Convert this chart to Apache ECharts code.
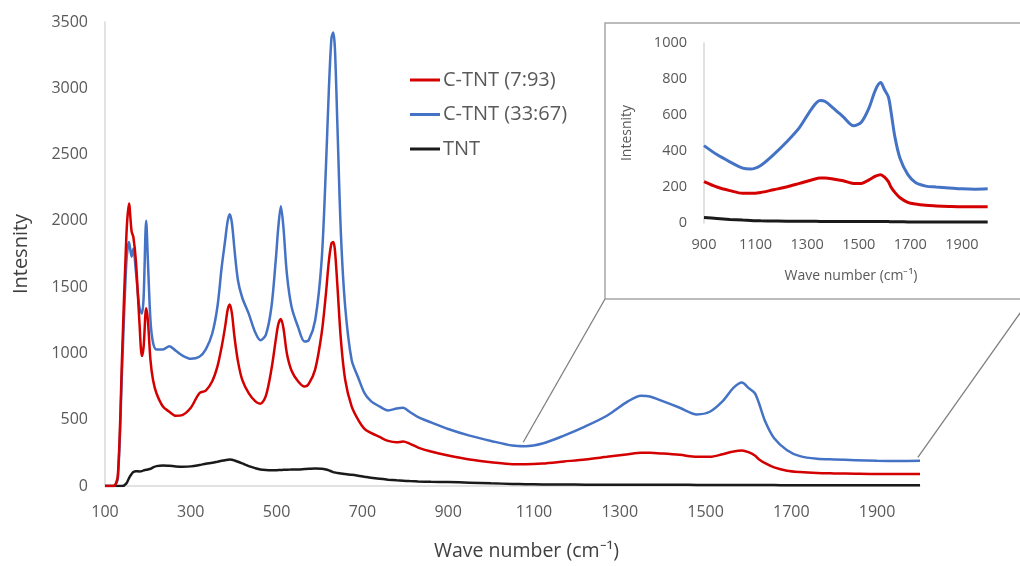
<!DOCTYPE html>
<html>
<head>
<meta charset="utf-8">
<script src="https://cdn.jsdelivr.net/npm/echarts@6/dist/echarts.min.js"></script>
<style>
  html, body { margin: 0; padding: 0; background: #fff; }
  #viz-raman { width: 1020px; height: 566px; }
</style>
</head>
<body>
<div id="viz-raman"></div>
<script>
// raman spectra
const waveNumber = [100, 120, 130, 140, 150, 156, 162, 166, 172, 180, 186, 190, 196, 200, 206, 212, 220, 235, 250, 265,
  280, 300, 320, 335, 350, 362, 372, 380, 386, 391, 396, 402, 410, 420, 435, 450, 462, 475, 488, 498,
  504, 510, 516, 524, 535, 550, 565, 575, 590, 605, 615, 622, 628, 632, 636, 642, 650, 660, 675, 690,
  705, 720, 740, 760, 780, 795, 810, 830, 860, 900, 950, 1000, 1050, 1080, 1120, 1170, 1220, 1270, 1320, 1350,
  1370, 1400, 1440, 1480, 1510, 1540, 1565, 1585, 1600, 1615, 1625, 1640, 1660, 1690, 1720, 1760, 1800, 1850, 1900, 1950,
  2000];

const ctnt793 = [0, 0, 80, 1000, 1900, 2130, 1920, 1880, 1700, 1250, 980, 1050, 1340, 1250, 950, 800, 700, 600, 560, 530,
  535, 590, 700, 720, 790, 900, 1050, 1200, 1330, 1370, 1300, 1120, 940, 800, 700, 640, 620, 680, 880, 1100,
  1220, 1260, 1190, 1000, 870, 790, 750, 770, 880, 1150, 1450, 1700, 1830, 1840, 1780, 1500, 1100, 800, 600, 500,
  430, 400, 370, 340, 330, 335, 320, 290, 260, 230, 200, 180, 165, 165, 170, 185, 200, 220, 240, 250,
  250, 245, 235, 220, 220, 240, 260, 268, 255, 230, 200, 170, 140, 115, 105, 98, 95, 92, 90, 90,
  90];

const ctnt3367 = [0, 0, 60, 900, 1700, 1840, 1730, 1790, 1620, 1350, 1300, 1420, 2000, 1700, 1250, 1080, 1030, 1030, 1055, 1020,
  985, 960, 975, 1030, 1150, 1350, 1650, 1850, 2000, 2050, 1980, 1780, 1550, 1420, 1300, 1160, 1100, 1140, 1350, 1700,
  1950, 2110, 1950, 1600, 1350, 1200, 1090, 1100, 1250, 1700, 2400, 3000, 3380, 3420, 3300, 2700, 1900, 1350, 950, 820,
  700, 640, 600, 570, 585, 590, 560, 520, 480, 430, 380, 340, 305, 300, 320, 380, 450, 530, 640, 680,
  675, 640, 590, 540, 560, 640, 740, 780, 740, 700, 620, 480, 360, 270, 225, 205, 200, 195, 190, 188,
  190];

const tnt = [0, 0, 0, 0, 20, 60, 90, 105, 112, 110, 112, 118, 122, 125, 130, 140, 150, 155, 152, 148,
  146, 148, 158, 168, 175, 183, 190, 195, 198, 200, 198, 192, 183, 170, 150, 135, 125, 120, 118, 118,
  120, 120, 122, 122, 125, 125, 128, 130, 132, 130, 125, 118, 110, 105, 102, 98, 95, 90, 85, 78,
  70, 62, 54, 48, 43, 40, 37, 34, 32, 30, 25, 20, 16, 14, 12, 11, 10, 10, 10, 9,
  9, 9, 9, 8, 8, 8, 8, 8, 8, 8, 7, 7, 7, 6, 6, 6, 6, 5, 5, 5,
  5];

const seriesNames = ['C-TNT (7:93)', 'C-TNT (33:67)', 'TNT'];
const seriesColors = ['#d40000', '#4472c4', '#1a1a1a'];
const seriesValues = [ctnt793, ctnt3367, tnt];

const insetFrom = 900;

function pairs(values, from) {
  const out = [];
  waveNumber.forEach((x, i) => {
    if (x >= from) out.push([x, values[i]]);
  });
  return out;
}

const fontFamily = '"Open Sans", "Liberation Sans", sans-serif';
const plainNumber = value => String(value);

const ramanChart = echarts.init(document.getElementById('viz-raman'));

const series = [];
seriesNames.forEach((name, i) => {
  // main plot
  series.push({
    name: name,
    type: 'line',
    xAxisIndex: 0,
    yAxisIndex: 0,
    data: pairs(seriesValues[i], 0),
    symbol: 'none',
    smooth: 0.3,
    lineStyle: { color: seriesColors[i], width: 2.5 },
    itemStyle: { color: seriesColors[i] },
    z: 3 - i
  });
  // zoomed inset
  series.push({
    name: name,
    type: 'line',
    xAxisIndex: 1,
    yAxisIndex: 1,
    data: pairs(seriesValues[i], insetFrom),
    symbol: 'none',
    smooth: 0.3,
    lineStyle: { color: seriesColors[i], width: 3 },
    itemStyle: { color: seriesColors[i] },
    z: 3 - i
  });
});

const ramanOption = {
  animation: false,
  backgroundColor: '#fff',
  textStyle: { fontFamily: fontFamily },
  legend: {
    data: seriesNames.map((name, i) => ({ name: name, icon: 'rect', itemStyle: { color: seriesColors[i] } })),
    orient: 'vertical',
    left: 410,
    top: 70,
    padding: 0,
    itemWidth: 30,
    itemHeight: 3,
    itemGap: 14.5,
    textStyle: { fontSize: 20, color: '#595959', fontFamily: fontFamily, padding: [0, 0, 0, -2] }
  },
  grid: [
    { left: 105, top: 22, right: 100, bottom: 74 },
    { left: 704, top: 43, width: 294, height: 180 }
  ],
  xAxis: [
    {
      type: 'value',
      gridIndex: 0,
      min: 100,
      max: 2000,
      interval: 200,
      name: 'Wave number (cm⁻¹)',
      nameLocation: 'middle',
      nameGap: 55,
      nameTextStyle: { fontSize: 19.5, color: '#404040', padding: [0, 0, 0, 28] },
      axisLine: { show: true, lineStyle: { color: '#d9d9d9', width: 1.5 } },
      axisTick: { show: false },
      splitLine: { show: false },
      axisLabel: { fontSize: 16, color: '#595959', margin: 18, showMaxLabel: false, formatter: plainNumber }
    },
    {
      type: 'value',
      gridIndex: 1,
      min: 900,
      max: 2040,
      interval: 200,
      name: 'Wave number (cm⁻¹)',
      nameLocation: 'middle',
      nameGap: 46,
      nameTextStyle: { fontSize: 14, color: '#595959' },
      axisLine: { show: false },
      axisTick: { show: false },
      splitLine: { show: false },
      axisLabel: { fontSize: 14.5, color: '#595959', margin: 14, showMaxLabel: false, formatter: plainNumber }
    }
  ],
  yAxis: [
    {
      type: 'value',
      gridIndex: 0,
      min: 0,
      max: 3500,
      interval: 500,
      name: 'Intesnity',
      nameLocation: 'middle',
      nameGap: 74,
      nameTextStyle: { fontSize: 20, color: '#404040' },
      axisLine: { show: true, lineStyle: { color: '#d9d9d9', width: 1.5 } },
      axisTick: { show: false },
      splitLine: { show: false },
      axisLabel: { fontSize: 16, color: '#595959', margin: 17, formatter: plainNumber }
    },
    {
      type: 'value',
      gridIndex: 1,
      min: 0,
      max: 1000,
      interval: 200,
      name: 'Intesnity',
      nameLocation: 'middle',
      nameGap: 70,
      nameTextStyle: { fontSize: 14, color: '#595959' },
      axisLine: { show: true, lineStyle: { color: '#d9d9d9', width: 1.5 } },
      axisTick: { show: false },
      splitLine: { show: false },
      axisLabel: { fontSize: 14.5, color: '#595959', margin: 17, formatter: plainNumber }
    }
  ],
  series: series
};

ramanChart.setOption(ramanOption);

// inset frame and the two lines that tie it to the zoomed region
const box = { left: 605, top: 23, right: 1030, bottom: 299 };
const startPt = ramanChart.convertToPixel({ gridIndex: 0 }, [1075, 330]);
const endPt = ramanChart.convertToPixel({ gridIndex: 0 }, [1995, 215]);

ramanChart.setOption({
  graphic: [
    {
      type: 'rect',
      shape: { x: box.left, y: box.top, width: box.right - box.left, height: box.bottom - box.top },
      style: { fill: 'none', stroke: '#a6a6a6', lineWidth: 1.5 },
      z: 1
    },
    {
      type: 'line',
      shape: { x1: startPt[0], y1: startPt[1], x2: box.left, y2: box.bottom },
      style: { stroke: '#7f7f7f', lineWidth: 1.3 },
      z: 1
    },
    {
      type: 'line',
      shape: { x1: endPt[0], y1: endPt[1], x2: box.right, y2: box.bottom },
      style: { stroke: '#7f7f7f', lineWidth: 1.3 },
      z: 1
    }
  ]
});

window.addEventListener('resize', function() {
  ramanChart.resize();
})
</script>
</body>
</html>
